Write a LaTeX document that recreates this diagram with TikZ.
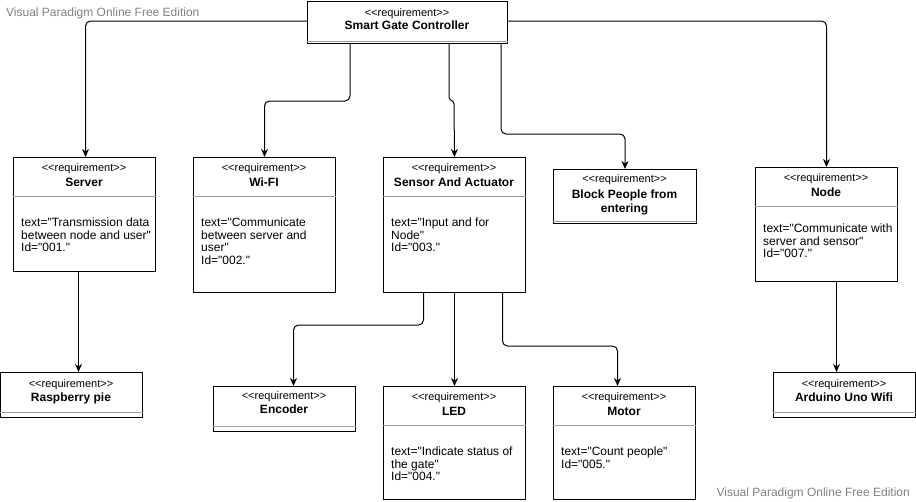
\documentclass[tikz,border=0pt]{standalone}
\usepackage{fontspec}
\setmainfont{Liberation Sans}[Ligatures=TeXOff]
\usetikzlibrary{arrows.meta,calc}
\definecolor{wm}{RGB}{128,128,128}
\definecolor{divc}{RGB}{160,160,160}
\begin{document}
\begin{tikzpicture}[x=1pt,y=1pt,
  box/.style={draw=black,line width=1pt,fill=white,anchor=north west,inner sep=0pt},
  div/.style={draw=divc,line width=1pt},
  stereo/.style={anchor=base,inner sep=0pt,font=\fontsize{11}{13}\selectfont},
  ttl/.style={anchor=base,inner sep=0pt,font=\bfseries\fontsize{12}{14}\selectfont,align=center},
  bodytxt/.style={anchor=north west,inner sep=0pt,align=left,font=\fontsize{12}{12.5}\selectfont},
  conn/.style={draw=black,line width=1pt,rounded corners=5pt,-{Stealth[length=8pt,width=7pt,inset=2.5pt]}},
  connsharp/.style={draw=black,line width=1pt,-{Stealth[length=8pt,width=7pt,inset=2.5pt]}},
  wmark/.style={inner sep=0pt,text=wm,font=\fontsize{12}{14}\selectfont}]
\useasboundingbox (0,0) rectangle (916,-501);

% boxes
\node[box,minimum width=200pt,minimum height=42pt] (sgc) at (307,-1) {};
\node[box,minimum width=142pt,minimum height=114pt] (server) at (13,-157) {};
\node[box,minimum width=142pt,minimum height=135pt] (wifi) at (193,-157) {};
\node[box,minimum width=142pt,minimum height=135pt] (sensor) at (383,-157) {};
\node[box,minimum width=143pt,minimum height=54pt] (block) at (553,-169) {};
\node[box,minimum width=142pt,minimum height=114pt] (nodebox) at (755,-167) {};
\node[box,minimum width=142pt,minimum height=45pt] (rasp) at (0,-372) {};
\node[box,minimum width=142pt,minimum height=45pt] (encoder) at (213,-386) {};
\node[box,minimum width=142pt,minimum height=113pt] (led) at (383,-386) {};
\node[box,minimum width=142pt,minimum height=113pt] (motor) at (553,-386) {};
\node[box,minimum width=142pt,minimum height=45pt] (arduino) at (773,-372) {};

% dividers
\draw[div] ([yshift=3pt]sgc.south west) -- ([yshift=3pt]sgc.south east);
\foreach \b in {server,wifi,sensor,nodebox,led,motor}
  \draw[div] ([yshift=-39pt]\b.north west) -- ([yshift=-39pt]\b.north east);
\draw[div] ([yshift=3pt]block.south west) -- ([yshift=3pt]block.south east);
\foreach \b in {rasp,encoder,arduino}
  \draw[div] ([yshift=6pt]\b.south west) -- ([yshift=6pt]\b.south east);

% texts
\node[stereo] (sgc-s) at (407,-16) {<<requirement>>};
\node[ttl] (sgc-t) at (407,-29) {Smart Gate Controller};

\node[stereo] (server-s) at (84,-171) {<<requirement>>};
\node[ttl] (server-t) at (84,-186) {Server};
\node[bodytxt] (server-b) at (21,-218) {text="Transmission data\\between node and user"\\Id="001."};

\node[stereo] (wifi-s) at (264,-171) {<<requirement>>};
\node[ttl] (wifi-t) at (264,-186) {Wi-FI};
\node[bodytxt] (wifi-b) at (201,-218) {text="Communicate\\between server and\\user"\\Id="002."};

\node[stereo] (sensor-s) at (454,-171) {<<requirement>>};
\node[ttl] (sensor-t) at (454,-186) {Sensor And Actuator};
\node[bodytxt] (sensor-b) at (391,-218) {text="Input and for\\Node"\\Id="003."};

\node[stereo] (block-s) at (624.5,-182) {<<requirement>>};
\node[ttl] (block-t1) at (624.5,-198) {Block People from};
\node[ttl] (block-t2) at (624.5,-212) {entering};

\node[stereo] (node-s) at (826,-181) {<<requirement>>};
\node[ttl] (node-t) at (826,-196) {Node};
\node[bodytxt] (node-b) at (763,-224) {text="Communicate with\\server and sensor"\\Id="007."};

\node[stereo] (rasp-s) at (71,-387) {<<requirement>>};
\node[ttl] (rasp-t) at (71,-401) {Raspberry pie};

\node[stereo] (enc-s) at (284,-399) {<<requirement>>};
\node[ttl] (enc-t) at (284,-413) {Encoder};

\node[stereo] (led-s) at (454,-400) {<<requirement>>};
\node[ttl] (led-t) at (454,-415) {LED};
\node[bodytxt] (led-b) at (391,-447) {text="Indicate status of\\the gate"\\Id="004."};

\node[stereo] (motor-s) at (624,-400) {<<requirement>>};
\node[ttl] (motor-t) at (624,-415) {Motor};
\node[bodytxt] (motor-b) at (561,-447) {text="Count people"\\Id="005."};

\node[stereo] (ard-s) at (844,-387) {<<requirement>>};
\node[ttl] (ard-t) at (844,-401) {Arduino Uno Wifi};

% watermarks
\node[wmark,anchor=base west] (wm1) at (6,-16) {Visual Paradigm Online Free Edition};
\node[wmark,anchor=base east] (wm2) at (910,-496) {Visual Paradigm Online Free Edition};

% connectors
\coordinate (j1) at (449,-97);
\coordinate (j2) at (454,-104);
\draw[conn] ([yshift=-20pt]sgc.north west) -| ([xshift=1pt]server.north);
\draw[conn] ([yshift=-20pt]sgc.north east) -| (nodebox.north);
\draw[conn] ([xshift=43pt]sgc.south west) -- ++(0,-57) -| (wifi.north);
\draw[connsharp] ([xshift=142pt]sgc.south west) -- (j1) .. controls (449,-101) and (454,-100) .. (j2) -- (sensor.north);
\draw[conn] ([xshift=194pt]sgc.south west) -- ++(0,-90) -| (block.north);
\draw[conn] ([xshift=-6pt]server.south) -- ([xshift=-6pt]server.south |- rasp.north);
\draw[conn] ([xshift=10pt]nodebox.south) -- ([xshift=10pt]nodebox.south |- arduino.north);
\draw[conn] ([xshift=-31pt]sensor.south) -- ++(0,-32) -| ([xshift=9pt]encoder.north);
\draw[conn] (sensor.south) -- (led.north);
\draw[conn] ([xshift=48pt]sensor.south) -- ++(0,-53) -| ([xshift=-7pt]motor.north);
\end{tikzpicture}
\end{document}
